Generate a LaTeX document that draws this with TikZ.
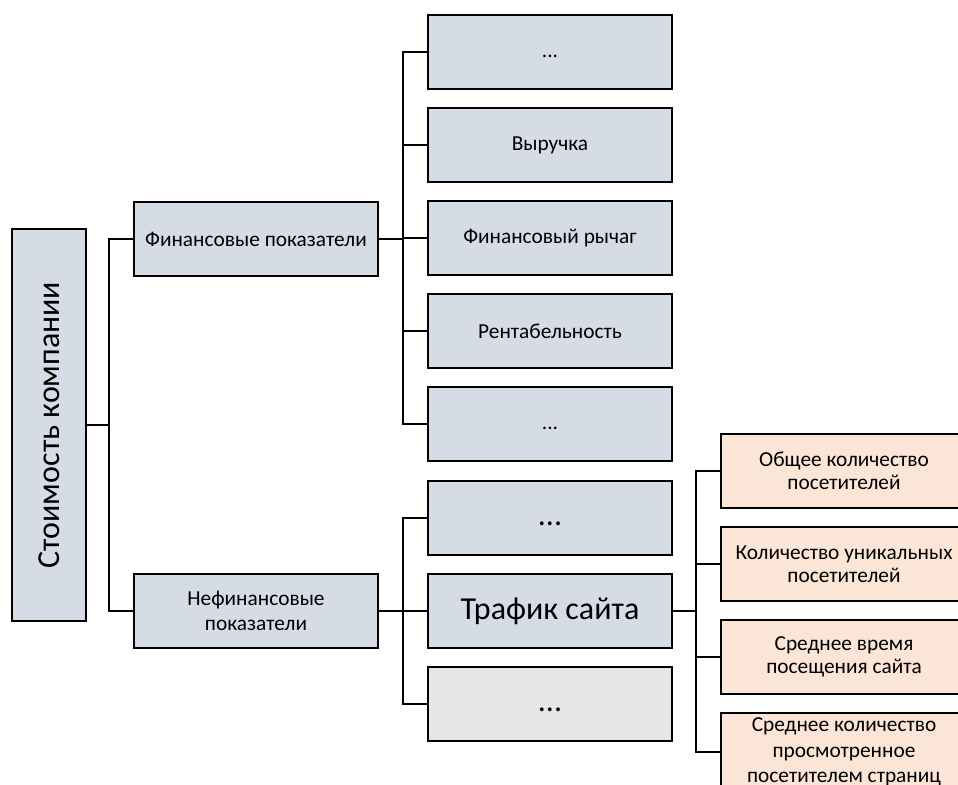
\documentclass[tikz,border=0pt]{standalone}
\usepackage{fontspec}
\setmainfont{Carlito}
\usepackage{xcolor}
\usetikzlibrary{arrows.meta, positioning, calc}
\definecolor{boxblue}{HTML}{D6DCE5}
\definecolor{boxorange}{HTML}{FBE5D6}
\definecolor{boxgrey}{HTML}{E7E6E6}

\begin{document}
\begin{tikzpicture}[x=0.75pt, y=-0.75pt, line width=1.4pt,
    every node/.style={draw, line width=1.6pt, align=center, inner sep=2pt,
        font=\fontsize{16}{19}\selectfont},
    blk/.style={fill=boxblue, minimum width=183.5pt, minimum height=56pt},
    org/.style={fill=boxorange, minimum width=184.5pt, minimum height=55.5pt,
        font=\fontsize{16}{17}\selectfont},
    big/.style={font=\fontsize{24}{29}\selectfont}]
    \clip (0,0) rectangle (958,785);

    \node[fill=boxblue, rotate=90, minimum width=294pt, minimum height=55.5pt,
        font=\fontsize{24}{29}\selectfont] (root) at (49,425) {Стоимость компании};

    \node[blk] (fin) at (256,239) {Финансовые показатели};
    \node[blk] (nefin) at (256,611) {Нефинансовые\\показатели};

    % financial indicators
    \node[blk] (f1) at (550,52) {\strut...};
    \node[blk] (f2) at (550,145) {Выручка};
    \node[blk] (f3) at (550,238) {Финансовый рычаг};
    \node[blk] (f4) at (550,331) {Рентабельность};
    \node[blk] (f5) at (550,424) {\strut...};

    % non-financial indicators
    \node[blk, big] (n1) at (550,518) {\strut...};
    \node[blk, big] (traf) at (550,611) {Трафик сайта};
    \node[blk, big, fill=boxgrey] (n3) at (550,704) {\strut...};

    % site traffic
    \node[org] (o1) at (844,471) {Общее количество\\посетителей};
    \node[org] (o2) at (844,564) {Количество уникальных\\посетителей};
    \node[org] (o3) at (844,657) {Среднее время\\посещения сайта};
    \node[org, minimum height=58.5pt, font=\fontsize{16}{19}\selectfont] (o4) at (844,752)
        {Среднее количество\\просмотренное\\посетителем страниц};

    \coordinate (jA) at (109,425);
    \coordinate (jB) at (403,239);
    \coordinate (jC) at (403,611);
    \coordinate (jD) at (696,611);

    \draw (root.south) -- (jA);
    \draw (fin.west) -| (jA) |- (nefin.west);

    \draw (fin.east) -- (jB);
    \draw (f1.west) -| (jB) |- (f5.west);
    \foreach \i in {2,3,4}
        \draw (f\i.west) -- (f\i.west -| jB);

    \draw (nefin.east) -- (jC);
    \draw (n1.west) -| (jC) |- (n3.west);
    \draw (traf.west) -- (jC);

    \draw (traf.east) -- (jD);
    \draw (o1.west) -| (jD) |- (o4.west);
    \draw (o2.west) -- (o2.west -| jD);
    \draw (o3.west) -- (o3.west -| jD);
\end{tikzpicture}
\end{document}
